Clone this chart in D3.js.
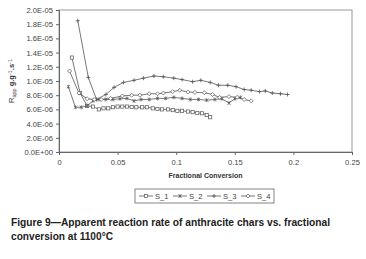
<!DOCTYPE html>
<html lang="en">
<head>
<meta charset="utf-8"/>
<script src="https://d3js.org/d3.v7.min.js"></script>
<style>
  body { margin: 0; background: #fff; }
  text { font-family: "Liberation Sans", Arial, sans-serif; }
</style>
</head>
<body>
<svg id="chart" width="366" height="259"></svg>
<script>
// values (y in units of 1e-6)
const xTicks = [0, 0.05, 0.1, 0.15, 0.2, 0.25];
const yTicks = [0, 2e-6, 4e-6, 6e-6, 8e-6, 1e-5, 1.2e-5, 1.4e-5, 1.6e-5, 1.8e-5, 2e-5];

const s1x = [0.011, 0.018, 0.024, 0.029, 0.034, 0.038, 0.042, 0.046, 0.050, 0.054, 0.058, 0.062, 0.066, 0.071, 0.075, 0.080, 0.084, 0.088, 0.093, 0.097, 0.101, 0.105, 0.110, 0.114, 0.118, 0.122, 0.126, 0.129];
const s1y = [13.3, 8.3, 6.5, 6.4, 6.0, 6.15, 6.15, 6.3, 6.4, 6.4, 6.4, 6.35, 6.3, 6.3, 6.3, 6.15, 6.05, 6.0, 6.0, 5.9, 5.8, 5.8, 5.7, 5.6, 5.5, 5.45, 5.2, 4.9];

const s2x = [0.008, 0.014, 0.019, 0.024, 0.029, 0.034, 0.040, 0.046, 0.052, 0.058, 0.064, 0.070, 0.077, 0.084, 0.091, 0.098, 0.105, 0.112, 0.119, 0.126, 0.133, 0.139, 0.145, 0.150, 0.155];
const s2y = [9.2, 6.3, 6.3, 6.5, 7.2, 7.4, 7.4, 7.4, 7.5, 7.55, 7.2, 7.4, 7.4, 7.55, 7.55, 7.7, 7.55, 7.4, 7.4, 7.3, 7.4, 7.5, 6.9, 7.5, 7.7];

const s3x = [0.016, 0.025, 0.032, 0.040, 0.047, 0.055, 0.064, 0.072, 0.081, 0.089, 0.098, 0.105, 0.114, 0.121, 0.129, 0.136, 0.144, 0.151, 0.158, 0.164, 0.171, 0.176, 0.182, 0.189, 0.195];
const s3y = [18.5, 10.5, 7.4, 8.1, 9.1, 9.8, 10.1, 10.4, 10.7, 10.6, 10.4, 10.2, 9.9, 10.1, 9.8, 9.4, 9.4, 9.2, 8.8, 8.7, 8.5, 8.6, 8.3, 8.2, 8.1];

const s4x = [0.009, 0.017, 0.024, 0.030, 0.036, 0.044, 0.054, 0.062, 0.069, 0.077, 0.084, 0.089, 0.097, 0.103, 0.110, 0.116, 0.124, 0.131, 0.137, 0.145, 0.152, 0.158, 0.164];
const s4y = [11.4, 8.3, 7.5, 7.4, 7.4, 7.55, 7.9, 8.0, 8.0, 8.2, 8.2, 8.3, 8.5, 8.7, 8.45, 8.4, 8.35, 8.1, 7.7, 7.8, 7.7, 7.4, 7.2];

const names = ["S_1", "S_2", "S_3", "S_4"];

const series = [
  { name: names[0], marker: "square", xs: s1x, ys: s1y },
  { name: names[1], marker: "asterisk", xs: s2x, ys: s2y },
  { name: names[2], marker: "plus", xs: s3x, ys: s3y },
  { name: names[3], marker: "diamond", xs: s4x, ys: s4y }
];

const plot = { left: 59, right: 352, top: 10, bottom: 152 };
const ink = "#555";

const svg = d3.select("#chart");

const x = d3.scaleLinear().domain([0, 0.25]).range([plot.left, plot.right]);
const y = d3.scaleLinear().domain([0, 2e-5]).range([plot.bottom, plot.top]);

// frame
svg.append("rect")
  .attr("x", plot.left).attr("y", plot.top)
  .attr("width", plot.right - plot.left).attr("height", plot.bottom - plot.top)
  .attr("fill", "none").attr("stroke", "#999").attr("stroke-width", 1);

function sci(v) {
  if (v === 0) return "0.0E+00";
  let e = Math.floor(Math.log10(v) + 1e-9);
  let m = v / Math.pow(10, e);
  let es = Math.abs(e) < 10 ? "0" + Math.abs(e) : "" + Math.abs(e);
  return m.toFixed(1) + "E" + (e < 0 ? "-" : "+") + es;
}

const yAxis = svg.append("g")
  .attr("transform", "translate(" + plot.left + ",0)")
  .call(d3.axisLeft(y).tickValues(yTicks).tickFormat(sci).tickSize(3).tickPadding(3));

const xAxis = svg.append("g")
  .attr("transform", "translate(0," + plot.bottom + ")")
  .call(d3.axisBottom(x).tickValues(xTicks).tickFormat(d3.format("")).tickSize(3).tickPadding(5));

[yAxis, xAxis].forEach(function(g) {
  g.select(".domain").attr("stroke", "#666");
  g.selectAll(".tick line").attr("stroke", "#666");
  g.selectAll("text").attr("fill", "#444").attr("font-size", "7.6px")
    .attr("font-family", "Liberation Sans, Arial, sans-serif");
});

// axis titles
svg.append("text")
  .attr("x", (plot.left + plot.right) / 2).attr("y", 178)
  .attr("text-anchor", "middle").attr("font-size", "7px").attr("font-weight", "bold")
  .attr("fill", "#333").text("Fractional Conversion");

const yt = svg.append("text")
  .attr("transform", "translate(14," + ((plot.top + plot.bottom) / 2) + ") rotate(-90)")
  .attr("text-anchor", "middle").attr("font-size", "7.5px").attr("fill", "#333");
yt.append("tspan").text("R");
yt.append("tspan").attr("font-size", "5.5px").attr("dy", "1.5").text("app");
yt.append("tspan").attr("dy", "-1.5").attr("font-weight", "bold").text(" g.g");
yt.append("tspan").attr("font-size", "5.5px").attr("dy", "-2.5").text("-1");
yt.append("tspan").attr("dy", "2.5").attr("font-weight", "bold").text(".s");
yt.append("tspan").attr("font-size", "5.5px").attr("dy", "-2.5").text("-1");

// markers
function drawMarker(g, type, cx, cy) {
  const r = 1.6;
  if (type === "square") {
    g.append("rect").attr("x", cx - r).attr("y", cy - r).attr("width", 2 * r).attr("height", 2 * r)
      .attr("fill", "#fff").attr("stroke", ink).attr("stroke-width", 0.7);
  } else if (type === "diamond") {
    const d = r + 0.4;
    g.append("path").attr("d", "M" + cx + "," + (cy - d) + "L" + (cx + d) + "," + cy +
      "L" + cx + "," + (cy + d) + "L" + (cx - d) + "," + cy + "Z")
      .attr("fill", "#fff").attr("stroke", ink).attr("stroke-width", 0.7);
  } else if (type === "plus") {
    g.append("path").attr("d", "M" + (cx - 2) + "," + cy + "H" + (cx + 2) +
      "M" + cx + "," + (cy - 2) + "V" + (cy + 2))
      .attr("stroke", ink).attr("stroke-width", 0.8);
  } else {
    g.append("path").attr("d", "M" + (cx - r) + "," + (cy - r) + "L" + (cx + r) + "," + (cy + r) +
      "M" + (cx - r) + "," + (cy + r) + "L" + (cx + r) + "," + (cy - r) +
      "M" + cx + "," + (cy - 2) + "V" + (cy + 2))
      .attr("stroke", ink).attr("stroke-width", 0.7);
  }
}

const line = d3.line().x(function(d) { return x(d[0]); }).y(function(d) { return y(d[1] * 1e-6); });

series.forEach(function(s) {
  const pts = s.xs.map(function(v, i) { return [v, s.ys[i]]; });
  const g = svg.append("g");
  g.append("path").datum(pts).attr("d", line)
    .attr("fill", "none").attr("stroke", ink).attr("stroke-width", 0.8);
  pts.forEach(function(p) { drawMarker(g, s.marker, x(p[0]), y(p[1] * 1e-6)); });
});

// legend
const legend = { x: 135, y: 189, w: 139, h: 14 };
svg.append("rect")
  .attr("x", legend.x).attr("y", legend.y).attr("width", legend.w).attr("height", legend.h)
  .attr("fill", "#fff").attr("stroke", "#666").attr("stroke-width", 0.8);

series.forEach(function(s, i) {
  const lx = legend.x + 4 + i * 34;
  const cy = legend.y + legend.h / 2;
  const g = svg.append("g");
  g.append("line").attr("x1", lx).attr("x2", lx + 14).attr("y1", cy).attr("y2", cy)
    .attr("stroke", ink).attr("stroke-width", 0.8);
  drawMarker(g, s.marker, lx + 7, cy);
  g.append("text").attr("x", lx + 16).attr("y", cy + 3)
    .attr("font-size", "7.6px").attr("fill", "#444").text(s.name);
});

// caption
svg.append("text").attr("x", 11).attr("y", 226)
  .attr("font-size", "10px").attr("font-weight", "bold").attr("fill", "#222")
  .attr("textLength", 319).attr("lengthAdjust", "spacingAndGlyphs")
  .text("Figure 9\u2014Apparent reaction rate of anthracite chars vs. fractional");
svg.append("text").attr("x", 11).attr("y", 240)
  .attr("font-size", "10px").attr("font-weight", "bold").attr("fill", "#222")
  .attr("textLength", 102).attr("lengthAdjust", "spacingAndGlyphs")
  .text("conversion at 1100\u00B0C");
</script>
</body>
</html>
